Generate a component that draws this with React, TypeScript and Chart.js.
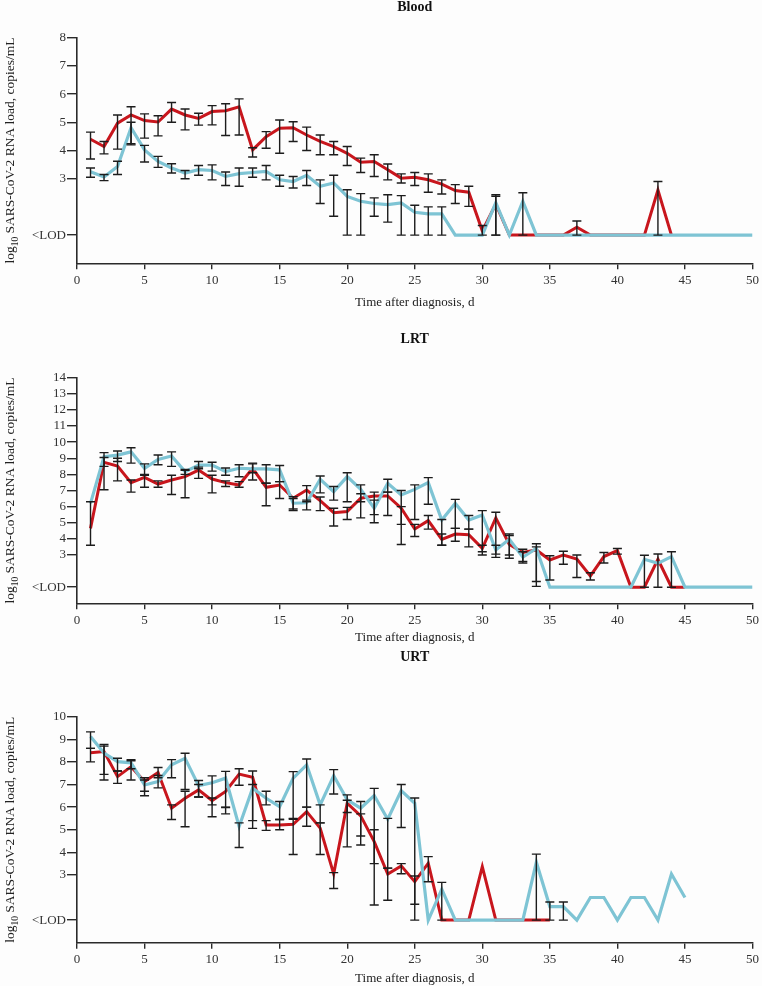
import React, { useEffect, useRef } from 'react';
import { Chart, registerables } from 'chart.js';

Chart.register(...registerables);

const RED = '#C8161D';
const BLUE = '#7EC4D4';
const INK = '#2a2a2a';
const FONT = '"Liberation Serif", "Times New Roman", serif';

// x axis
const xTicksStep = 5;
const xMax = 50;

// ---------------- Blood ----------------
const bloodYTicks = [1, 3, 4, 5, 6, 7, 8];
// values for day 1, 2, 3, ...
const bloodRed: (number | null)[] = [
  4.40, 4.14, 4.97, 5.26, 5.06, 5.01, 5.47, 5.26, 5.14, 5.38,
  5.41, 5.55, 4.02, 4.49, 4.79, 4.81, 4.55, 4.32, 4.14, 3.90,
  3.58, 3.61, 3.32, 3.02, 3.05, 2.96, 2.81, 2.58, 2.52, 1.15,
  2.10, 1, 1, 1, 1, 1, 1.28, 1, 1, 1,
  1, 1, 2.60, 1,
];
const bloodBlue: (number | null)[] = [
  3.25, 3.06, 3.43, 4.81, 4.02, 3.61, 3.38, 3.20, 3.32, 3.29,
  3.08, 3.18, 3.22, 3.26, 2.96, 2.90, 3.12, 2.73, 2.85, 2.37,
  2.20, 2.12, 2.08, 2.14, 1.81, 1.75, 1.75, 1, 1, 1,
  2.15, 1, 2.20, 1, 1, 1, 1, 1, 1, 1,
  1, 1, 1, 1, 1, 1, 1, 1, 1, 1,
];
// [day, lower, upper]
const bloodRedErr: [number, number, number][] = [
  [1, 3.70, 4.65], [2, 3.88, 4.32], [3, 4.05, 5.26], [4, 4.24, 5.55], [5, 4.44, 5.30],
  [6, 4.52, 5.23], [7, 5.00, 5.70], [8, 4.73, 5.47], [9, 4.90, 5.32], [10, 4.91, 5.59],
  [11, 4.53, 5.66], [12, 4.55, 5.83], [13, 3.77, 4.10], [14, 4.08, 4.67], [15, 3.90, 5.08],
  [16, 4.32, 5.02], [17, 4.00, 4.83], [18, 3.85, 4.55], [19, 3.85, 4.32], [20, 3.47, 4.14],
  [21, 3.22, 3.73], [22, 3.08, 3.85], [23, 2.96, 3.52], [24, 2.85, 3.17], [25, 2.76, 3.22],
  [26, 2.52, 3.17], [27, 2.46, 2.96], [28, 2.12, 2.79], [29, 2.02, 2.73], [30, 1.0, 1.34],
  [31, 1.0, 2.43], [37, 1.0, 1.50], [43, 1.0, 2.90],
];
const bloodBlueErr: [number, number, number][] = [
  [1, 3.05, 3.38], [2, 2.93, 3.15], [3, 3.15, 3.62], [4, 4.20, 5.00], [5, 3.59, 4.18],
  [6, 3.40, 3.79], [7, 3.20, 3.53], [8, 3.00, 3.29], [9, 3.12, 3.47], [10, 2.96, 3.49],
  [11, 2.76, 3.24], [12, 2.73, 3.38], [13, 3.05, 3.38], [14, 2.96, 3.47], [15, 2.73, 3.12],
  [16, 2.67, 3.08], [17, 2.76, 3.29], [18, 2.12, 2.96], [19, 1.67, 3.12], [20, 1.0, 2.61],
  [21, 1.0, 2.47], [22, 1.67, 2.32], [23, 1.46, 2.43], [24, 1.0, 2.40], [25, 1.0, 2.06],
  [26, 1.0, 2.00], [27, 1.0, 2.00], [31, 1.0, 2.38], [33, 1.0, 2.50],
];

// ---------------- LRT ----------------
const lrtYTicks = [1, 3, 4, 5, 6, 7, 8, 9, 10, 11, 12, 13, 14];
const lrtRed: (number | null)[] = [
  4.65, 8.75, 8.52, 7.49, 7.82, 7.40, 7.65, 7.86, 8.27, 7.71,
  7.49, 7.34, 8.38, 7.20, 7.34, 6.52, 7.03, 6.37, 5.62, 5.69,
  6.52, 6.66, 6.66, 5.90, 4.61, 5.13, 3.97, 4.30, 4.26, 3.41,
  5.30, 3.65, 3.15, 3.31, 2.69, 3.00, 2.75, 1.70, 2.90, 3.27,
  1, 1, 2.73, 1, 1,
];
const lrtBlue: (number | null)[] = [
  6.20, 9.10, 9.20, 9.40, 8.38, 8.93, 9.14, 8.17, 8.58, 8.58,
  8.17, 8.38, 8.34, 8.34, 8.28, 6.21, 6.24, 7.70, 6.93, 7.86,
  7.07, 5.90, 7.45, 6.72, 7.07, 7.49, 5.17, 6.20, 5.17, 5.48,
  3.31, 3.97, 2.86, 3.41, 1, 1, 1, 1, 1, 1,
  1, 2.73, 2.48, 2.90, 1, 1, 1, 1, 1, 1,
];
const lrtRedErr: [number, number, number][] = [
  [1, 3.60, 6.30], [2, 7.05, 9.05], [3, 7.60, 9.00], [4, 6.90, 7.65], [5, 7.20, 7.95],
  [6, 7.20, 7.60], [7, 6.75, 7.95], [8, 6.55, 8.25], [9, 7.75, 8.45], [10, 6.85, 7.95],
  [11, 7.25, 7.60], [12, 7.20, 7.55], [13, 7.65, 8.70], [14, 6.05, 7.45], [15, 6.50, 7.55],
  [16, 5.75, 6.62], [17, 6.30, 7.30], [18, 5.75, 6.60], [19, 4.80, 5.90], [20, 5.20, 5.95],
  [21, 5.30, 6.80], [22, 5.50, 6.90], [23, 5.45, 6.90], [24, 3.65, 6.00], [25, 4.15, 4.90],
  [26, 4.60, 5.45], [27, 3.60, 4.30], [28, 3.85, 4.65], [29, 3.50, 4.60], [30, 3.00, 3.60],
  [31, 3.05, 5.65], [32, 2.80, 4.30], [33, 2.50, 3.35], [34, 1.35, 3.50], [35, 1.45, 2.95],
  [36, 2.42, 3.23], [37, 1.60, 3.00], [38, 1.45, 1.90], [39, 2.50, 3.15], [40, 3.05, 3.40],
  [43, 1.0, 3.06],
];
const lrtBlueErr: [number, number, number][] = [
  [2, 8.50, 9.35], [3, 8.80, 9.45], [4, 8.70, 9.65], [5, 8.00, 8.65], [6, 8.60, 9.20],
  [7, 8.50, 9.40], [8, 8.00, 8.30], [9, 8.35, 8.80], [10, 8.20, 8.75], [11, 7.95, 8.40],
  [12, 7.85, 8.60], [13, 8.10, 8.65], [14, 7.45, 8.60], [15, 7.55, 8.55], [16, 5.85, 6.50],
  [17, 5.80, 6.40], [18, 6.85, 7.90], [19, 6.40, 7.25], [20, 6.30, 8.10], [21, 6.30, 7.35],
  [22, 5.00, 6.40], [23, 6.90, 7.70], [24, 4.90, 7.00], [25, 5.20, 7.35], [26, 6.15, 7.80],
  [27, 3.60, 5.20], [28, 4.65, 6.45], [29, 4.60, 5.45], [30, 3.20, 5.75], [31, 2.85, 3.60],
  [32, 3.00, 4.20], [33, 2.60, 3.20], [34, 1.05, 3.70], [42, 1.0, 2.98], [44, 1.0, 3.20],
];

// ---------------- URT ----------------
const urtYTicks = [1, 3, 4, 5, 6, 7, 8, 9, 10];
const urtRed: (number | null)[] = [
  8.41, 8.46, 7.35, 7.79, 7.13, 7.53, 5.95, 6.39, 6.76, 6.29,
  6.69, 7.46, 7.32, 5.21, 5.21, 5.24, 5.80, 5.07, 3.04, 6.17,
  5.61, 4.47, 3.04, 3.40, 2.70, 3.52, 1, 1, 1, 3.37,
  1, 1, 1, 1, 1,
];
const urtBlue: (number | null)[] = [
  9.12, 8.39, 8.01, 7.96, 6.98, 7.13, 7.87, 8.16, 6.95, 7.08,
  7.28, 5.14, 6.84, 6.39, 6.02, 7.28, 7.87, 6.10, 7.39, 6.32,
  5.95, 6.51, 5.46, 6.73, 6.17, 1, 2.37, 1, 1, 1,
  1, 1, 1, 3.56, 1.60, 1.60, 1, 2.00, 2.00, 1,
  2.00, 2.00, 1, 3.04, 2.00,
];
const urtRedErr: [number, number, number][] = [
  [1, 8.00, 8.60], [2, 7.20, 8.77], [3, 7.05, 7.60], [4, 7.20, 8.05], [5, 6.70, 7.30],
  [6, 7.30, 7.75], [7, 5.45, 6.10], [8, 5.13, 6.70], [9, 6.45, 7.00], [10, 5.57, 6.40],
  [11, 5.70, 6.00], [12, 6.97, 7.70], [13, 5.40, 7.60], [14, 4.97, 5.40], [15, 5.00, 5.45],
  [16, 3.90, 5.46], [17, 5.15, 6.00], [18, 3.90, 5.30], [19, 2.40, 3.10], [20, 4.24, 6.30],
  [21, 4.32, 5.70], [22, 1.67, 5.00], [23, 1.88, 3.30], [24, 3.05, 3.50], [25, 1.70, 2.95],
  [26, 2.70, 3.81],
];
const urtBlueErr: [number, number, number][] = [
  [1, 8.60, 9.33], [2, 7.45, 8.70], [3, 7.60, 8.16], [4, 7.70, 8.10], [5, 6.50, 7.20],
  [6, 6.85, 7.40], [7, 7.30, 8.10], [8, 6.78, 8.38], [9, 6.45, 7.18], [10, 6.10, 7.38],
  [11, 5.98, 7.58], [12, 4.21, 5.30], [13, 5.06, 7.00], [14, 6.10, 6.70], [15, 5.45, 6.25],
  [16, 5.50, 7.57], [17, 6.00, 8.13], [18, 5.30, 6.10], [19, 6.58, 7.66], [20, 5.76, 6.54],
  [21, 4.72, 6.25], [22, 3.50, 6.83], [23, 3.30, 5.50], [24, 5.10, 7.00], [25, 1.0, 6.40],
  [27, 1.0, 2.67], [34, 1.0, 3.92], [35, 1.0, 1.80], [36, 1.0, 1.80],
];

const yTitleMain = ' SARS-CoV-2 RNA load, copies/mL';
const xTitle = 'Time after diagnosis, d';

type Panel = {
  title: string;
  yTicks: number[];
  red: (number | null)[];
  blue: (number | null)[];
  redErr: [number, number, number][];
  blueErr: [number, number, number][];
  top: number;
  height: number;
  padTop: number;
  xAxisH: number;
  titleY: number;
  xTitleGap: number;
};

const panels: Panel[] = [
  { title: 'Blood', yTicks: bloodYTicks, red: bloodRed, blue: bloodBlue, redErr: bloodRedErr, blueErr: bloodBlueErr,
    top: 0, height: 318, padTop: 37.7, xAxisH: 54.7, titleY: 7, xTitleGap: 39.7 },
  { title: 'LRT', yTicks: lrtYTicks, red: lrtRed, blue: lrtBlue, redErr: lrtRedErr, blueErr: lrtBlueErr,
    top: 318, height: 327, padTop: 59.7, xAxisH: 41.7, titleY: 21, xTitleGap: 34.4 },
  { title: 'URT', yTicks: urtYTicks, red: urtRed, blue: urtBlue, redErr: urtRedErr, blueErr: urtBlueErr,
    top: 645, height: 341, padTop: 71.7, xAxisH: 43.3, titleY: 12, xTitleGap: 35.6 },
];

function toPoints(arr: (number | null)[]) {
  return arr.map((v, i) => ({ x: i + 1, y: v }));
}

function PanelChart({ p }: { p: Panel }) {
  const ref = useRef<HTMLCanvasElement | null>(null);
  useEffect(() => {
    if (!ref.current) return;
    const yMax = p.yTicks[p.yTicks.length - 1];
    const decor = {
      id: 'decor',
      afterDatasetsDraw(chart: any) {
        const ctx = chart.ctx;
        const xs = chart.scales.x;
        const ys = chart.scales.y;
        ctx.save();
        ctx.strokeStyle = '#1c1c1c';
        ctx.lineWidth = 1.4;
        const drawErr = (list: [number, number, number][]) => {
          list.forEach(([d, lo, hi]) => {
            const x = xs.getPixelForValue(d);
            const y1 = ys.getPixelForValue(lo);
            const y2 = ys.getPixelForValue(hi);
            ctx.beginPath();
            ctx.moveTo(x, y1);
            ctx.lineTo(x, y2);
            ctx.moveTo(x - 4.5, y1);
            ctx.lineTo(x + 4.5, y1);
            ctx.moveTo(x - 4.5, y2);
            ctx.lineTo(x + 4.5, y2);
            ctx.stroke();
          });
        };
        drawErr(p.redErr);
        drawErr(p.blueErr);
        ctx.restore();
      },
      afterDraw(chart: any) {
        const ctx = chart.ctx;
        const a = chart.chartArea;
        ctx.save();
        ctx.fillStyle = '#111';
        ctx.textAlign = 'center';
        ctx.textBaseline = 'middle';
        ctx.font = `bold 14px ${FONT}`;
        ctx.fillText(p.title, (a.left + a.right) / 2, p.titleY);
        ctx.font = `13px ${FONT}`;
        ctx.fillStyle = '#222';
        ctx.fillText(xTitle, (a.left + a.right) / 2, a.bottom + p.xTitleGap);
        // y title with subscript
        ctx.translate(14, (a.top + a.bottom) / 2);
        ctx.rotate(-Math.PI / 2);
        ctx.textAlign = 'left';
        ctx.textBaseline = 'alphabetic';
        ctx.font = `13.5px ${FONT}`;
        const w1 = ctx.measureText('log').width;
        const w3 = ctx.measureText(yTitleMain).width;
        ctx.font = `9.5px ${FONT}`;
        const w2 = ctx.measureText('10').width;
        const start = -(w1 + w2 + w3) / 2;
        ctx.font = `13.5px ${FONT}`;
        ctx.fillText('log', start, 0);
        ctx.font = `9.5px ${FONT}`;
        ctx.fillText('10', start + w1, 3.5);
        ctx.font = `13.5px ${FONT}`;
        ctx.fillText(yTitleMain, start + w1 + w2, 0);
        ctx.restore();
      },
    };
    const chart = new Chart(ref.current, {
      type: 'line',
      data: {
        datasets: [
          {
            label: 'blue',
            data: toPoints(p.blue),
            borderColor: BLUE,
            borderWidth: 3.2,
            pointRadius: 0,
            tension: 0,
            spanGaps: false,
          },
          {
            label: 'red',
            data: toPoints(p.red),
            borderColor: RED,
            borderWidth: 3,
            pointRadius: 0,
            tension: 0,
            spanGaps: false,
          },
        ],
      },
      options: {
        animation: false,
        responsive: false,
        devicePixelRatio: 1,
        layout: { padding: { top: p.padTop, right: 7, left: 0, bottom: 0 } },
        plugins: { legend: { display: false }, tooltip: { enabled: false }, title: { display: false } },
        scales: {
          x: {
            type: 'linear',
            min: 0,
            max: xMax,
            afterFit: (s: any) => { s.height = p.xAxisH; },
            ticks: { stepSize: xTicksStep, color: '#333', font: { family: FONT, size: 13 }, padding: 3, maxRotation: 0, autoSkip: false },
            grid: { drawOnChartArea: false, drawTicks: true, tickLength: 6, color: INK, lineWidth: 1.4 },
            border: { display: true, color: INK, width: 1.6 },
          },
          y: {
            type: 'linear',
            min: 0,
            max: yMax,
            afterFit: (s: any) => { s.width = 77; },
            afterBuildTicks: (s: any) => { s.ticks = p.yTicks.map((v) => ({ value: v })); },
            ticks: {
              color: '#333',
              font: { family: FONT, size: 13 },
              padding: 1,
              autoSkip: false,
              callback: (v: any) => (v === 1 ? '<LOD' : String(v)),
            },
            grid: { drawOnChartArea: false, drawTicks: true, tickLength: 10, color: INK, lineWidth: 1.4 },
            border: { display: true, color: INK, width: 1.6 },
          },
        },
      },
      plugins: [decor],
    } as any);
    return () => chart.destroy();
  }, [p]);
  return (
    <canvas
      ref={ref}
      width={762}
      height={p.height}
      style={{ position: 'absolute', left: 0, top: p.top, width: 762, height: p.height, display: 'block' }}
    />
  );
}

export default function App() {
  return (
    <div style={{ position: 'absolute', left: 0, top: 0, width: 762, height: 986, background: '#fdfdfd', overflow: 'hidden' }}>
      {panels.map((p) => (
        <PanelChart key={p.title} p={p} />
      ))}
    </div>
  );
}
